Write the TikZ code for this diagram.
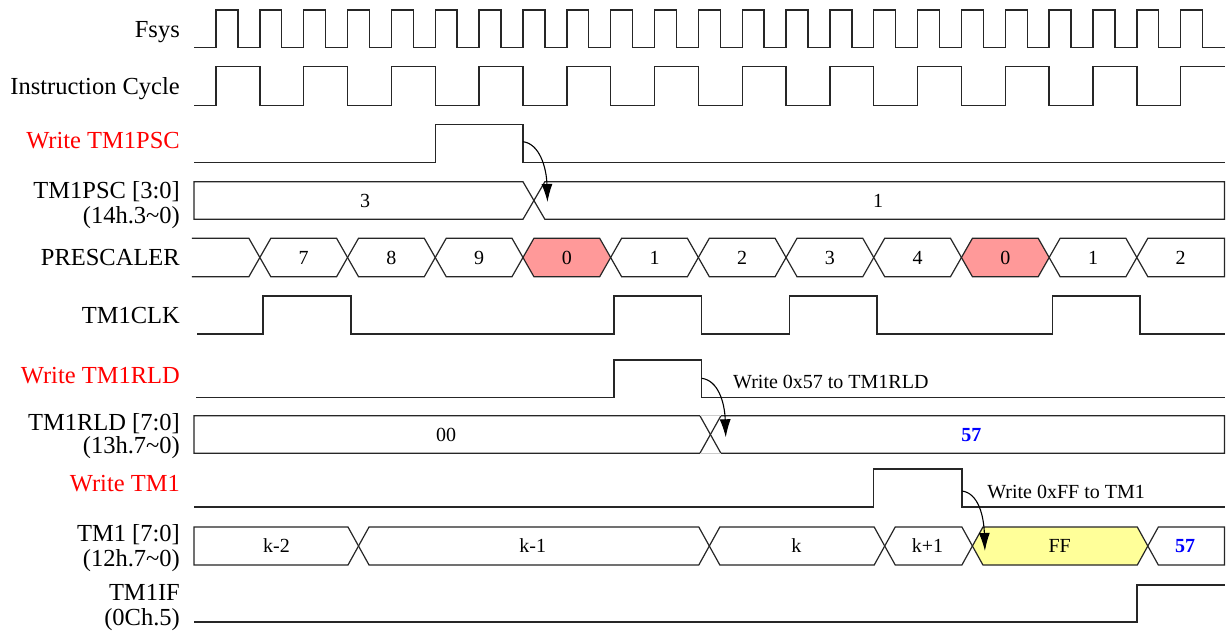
\documentclass[tikz,border=0pt]{standalone}
\usepackage{fontspec}
\setmainfont{Liberation Serif}
\usetikzlibrary{arrows.meta}
\definecolor{pinkred}{RGB}{255,153,153}
\definecolor{paleyel}{RGB}{255,255,153}
\definecolor{lblred}{RGB}{255,0,0}
\definecolor{valblue}{RGB}{0,0,255}
% bus segment helpers: [style]{x start}{x end}{top}{bottom}{half crossing}
\newcommand{\tdHex}[6][]{\path[bus,#1] (#2,{(#4+#5)/2}) -- ({#2+#6},#4) -- ({#3-#6},#4) -- (#3,{(#4+#5)/2}) -- ({#3-#6},#5) -- ({#2+#6},#5) -- cycle;}
\newcommand{\tdLeft}[6][]{\path[bus,#1] (#2,#4) -- ({#3-#6},#4) -- (#3,{(#4+#5)/2}) -- ({#3-#6},#5) -- (#2,#5) -- cycle;}
\newcommand{\tdRight}[6][]{\path[bus,#1] (#2,{(#4+#5)/2}) -- ({#2+#6},#4) -- (#3,#4) -- (#3,#5) -- ({#2+#6},#5) -- cycle;}
\begin{document}
\begin{tikzpicture}[x=21.925pt, y=-1pt,
  sig/.style={line width=1.4pt, draw=black!85, line join=miter},
  bus/.style={line width=1.2pt, draw=black!85, fill=white, line join=miter},
  lbl/.style={anchor=base east, font=\fontsize{24.5}{26}\selectfont, inner sep=0pt},
  wlbl/.style={lbl, text=lblred},
  val/.style={anchor=base, font=\fontsize{20}{22}\selectfont, inner sep=0pt},
  bval/.style={val, font=\fontsize{20}{22}\selectfont\bfseries, text=valblue},
  note/.style={anchor=base west, font=\fontsize{20}{22}\selectfont, inner sep=0pt},
  wr/.style={-{Latex[length=18pt,width=11pt]}, line width=1.1pt}
]
\useasboundingbox[fill=white] (-9.8518,0) rectangle (46.157,632);

% ---- labels ----
\node[lbl]  (lfsys) at (-1.642,37)    {Fsys};
\node[lbl]  (linst) at (-1.642,94)    {Instruction Cycle};
\node[wlbl] (lwpsc) at (-1.642,148)   {Write TM1PSC};
\node[lbl]  (lpsc1) at (-1.642,198.3) {TM1PSC [3:0]};
\node[lbl]  (lpsc2) at (-1.642,223)   {(14h.3\textasciitilde 0)};
\node[lbl]  (lpre)  at (-1.642,265)   {PRESCALER};
\node[lbl]  (lclk)  at (-1.642,323)   {TM1CLK};
\node[wlbl] (lwrld) at (-1.642,383.3) {Write TM1RLD};
\node[lbl]  (lrld1) at (-1.642,430)   {TM1RLD [7:0]};
\node[lbl]  (lrld2) at (-1.642,453.5) {(13h.7\textasciitilde 0)};
\node[wlbl] (lwtm)  at (-1.642,491)   {Write TM1};
\node[lbl]  (ltm1)  at (-1.642,541.7) {TM1 [7:0]};
\node[lbl]  (ltm2)  at (-1.642,566)   {(12h.7\textasciitilde 0)};
\node[lbl]  (lif1)  at (-1.642,600.7) {TM1IF};
\node[lbl]  (lif2)  at (-1.642,625.5) {(0Ch.5)};

% ---- Fsys ----
\draw[sig] (-1,47.7) \foreach \k in {0,...,22} { -- ({2*\k},47.7) -- ({2*\k},10) -- ({2*\k+1},10) -- ({2*\k+1},47.7) } -- (46,47.7);
% ---- Instruction cycle ----
\draw[sig] (-1,105.3) \foreach \k in {0,...,10} { -- ({4*\k},105.3) -- ({4*\k},66.7) -- ({4*\k+2},66.7) -- ({4*\k+2},105.3) } -- (44,105.3) -- (44,66.7) -- (46,66.7);
% ---- Write TM1PSC ----
\draw[sig] (-1,162.7) -- (10,162.7) -- (10,124.3) -- (14,124.3) -- (14,162.7) -- (46,162.7);
% ---- TM1PSC bus ----
\tdLeft{-1}{14.5}{181.7}{219.3}{0.5}
\tdRight{14.5}{46}{181.7}{219.3}{0.5}
\node[val] (vpsc3) at (6.8,207.3) {3};
\node[val] (vpsc1) at (30.2,207.3) {1};
% ---- PRESCALER bus ----
\path[bus] (-1.1,238.3) -- (1.5,238.3) -- (2,257.5) -- (1.5,276.7) -- (-1.1,276.7);
\foreach \a/\b in {2/6,6/10,10/14,18/22,22/26,26/30,30/34,38/42} {\tdHex{\a}{\b}{238.3}{276.7}{0.5}}
\tdHex[fill=pinkred]{14}{18}{238.3}{276.7}{0.5}
\tdHex[fill=pinkred]{34}{38}{238.3}{276.7}{0.5}
\tdRight{42}{46}{238.3}{276.7}{0.5}
\node[val] (p1) at (4,264.3)  {7};
\node[val] (p2) at (8,264.3)  {8};
\node[val] (p3) at (12,264.3) {9};
\node[val] (p4) at (16,264.3) {0};
\node[val] (p5) at (20,264.3) {1};
\node[val] (p6) at (24,264.3) {2};
\node[val] (p7) at (28,264.3) {3};
\node[val] (p8) at (32,264.3) {4};
\node[val] (p9) at (36,264.3) {0};
\node[val] (p10) at (40,264.3) {1};
\node[val] (p11) at (44,264.3) {2};
% ---- TM1CLK ----
\draw[sig] (-0.85,334) -- (2.15,334) -- (2.15,296) -- (6.15,296) -- (6.15,334) -- (18.15,334) -- (18.15,296) -- (22.15,296) -- (22.15,334) -- (26.15,334) -- (26.15,296) -- (30.15,296) -- (30.15,334) -- (38.15,334) -- (38.15,296) -- (42.15,296) -- (42.15,334) -- (46,334);
% ---- Write TM1RLD ----
\draw[sig] (-0.9,397.7) -- (18.15,397.7) -- (18.15,360) -- (22.15,360) -- (22.15,397.7) -- (46,397.7);
% ---- TM1RLD bus ----
\tdLeft{-1}{22.55}{415.7}{453.3}{0.48}
\tdRight{22.55}{46}{415.7}{453.3}{0.48}
\draw[gray!40, line width=0.8pt] (22.07,415.7) -- (23.03,415.7) (22.07,453.3) -- (23.03,453.3);
\node[val]  (vr00) at (10.5,441.3)  {00};
\node[bval] (vr57) at (34.45,441.3) {57};
% ---- Write TM1 ----
\draw[sig] (-1,507) -- (30,507) -- (30,469) -- (34.02,469) -- (34.02,507) -- (46,507);
% ---- TM1 bus ----
\tdLeft{-1}{6.5}{527}{565}{0.48}
\tdHex{6.5}{22.5}{527}{565}{0.48}
\tdHex{22.5}{30.5}{527}{565}{0.48}
\tdHex{30.5}{34.5}{527}{565}{0.48}
\tdHex[fill=paleyel]{34.5}{42.5}{527}{565}{0.48}
\tdRight{42.5}{46}{527}{565}{0.48}
\node[val]  (t1) at (2.76,552.8)  {k-2};
\node[val]  (t2) at (14.45,552.8) {k-1};
\node[val]  (t3) at (26.47,552.8) {k};
\node[val]  (t4) at (32.45,552.8) {k+1};
\node[val]  (t5) at (38.48,552.8) {FF};
\node[bval] (t6) at (44.2,552.8)  {57};
% ---- TM1IF ----
\draw[sig] (-1,622) -- (42,622) -- (42,585) -- (46,585);

% ---- annotations and arrows ----
\node[note] (n1) at (23.58,388) {Write 0x57 to TM1RLD};
\node[note] (n2) at (35.17,498) {Write 0xFF to TM1};
\coordinate (a1s) at (14,141.7);
\coordinate (a1e) at (15.12,202);
\coordinate (a2s) at (22.15,378.3);
\coordinate (a2e) at (23.25,437.3);
\coordinate (a3s) at (34.02,491);
\coordinate (a3e) at (35.07,551);
\draw[wr] (a1s) .. controls +(0.75,2) and +(-0.05,-35) .. (a1e);
\draw[wr] (a2s) .. controls +(0.75,2) and +(-0.05,-35) .. (a2e);
\draw[wr] (a3s) .. controls +(0.75,2) and +(-0.05,-35) .. (a3e);
\end{tikzpicture}
\end{document}
